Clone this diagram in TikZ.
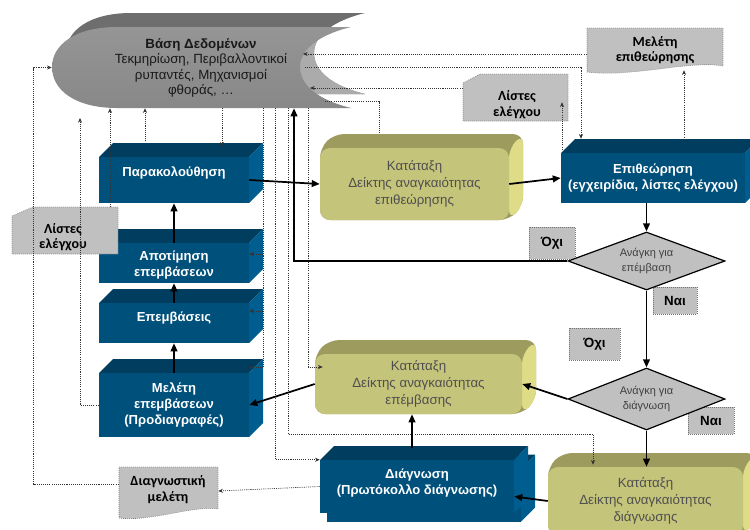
\documentclass[tikz,border=0pt]{standalone}
\usepackage{fontspec}
\setmainfont{Liberation Sans}
\newfontfamily\calfont{Carlito}[BoldFont={Carlito Bold}]
\usetikzlibrary{shapes.geometric,arrows.meta,calc}

\newlength\pxu
\setlength\pxu{0.75pt}

\definecolor{bluefront}{HTML}{00507C}
\definecolor{bluetop}{HTML}{003D5E}
\definecolor{blueside}{HTML}{005D8F}
\definecolor{olivefront}{HTML}{C5C47B}
\definecolor{olivetop}{HTML}{9D9B5E}
\definecolor{oliveside}{HTML}{DEDC86}
\definecolor{dbfronttop}{HTML}{959595}
\definecolor{dbfrontbot}{HTML}{888888}
\definecolor{dbtop}{HTML}{6E6E6E}
\definecolor{dbinner}{HTML}{ABABAB}
\definecolor{tagfill}{HTML}{C0C0C0}
\definecolor{olivetext}{HTML}{4F4F4F}

% blue extruded block: name, centre x, centre y, width, height
\newcommand\bluecube[5]{%
  \fill[bluetop] ({#2-#4/2},{#3-#5/2}) -- ++(14,-14) -- ++(#4,0) -- ({#2+#4/2},{#3-#5/2}) -- cycle;
  \fill[blueside] ({#2+#4/2},{#3-#5/2}) -- ++(14,-14) -- ++(0,#5) -- ({#2+#4/2},{#3+#5/2}) -- cycle;
  \node[blueblock, minimum width=#4\pxu, minimum height=#5\pxu] (#1) at (#2,#3) {};}

% olive rounded slab: name, centre x, centre y, width, height, text
\newcommand\olivecube[6]{%
  \fill[olivetop, rounded corners=7.5pt] ({#2-#4/2},{#3+#5/2}) -- ({#2-#4/2},{#3-#5/2}) -- ++(14,-14) -- ++(#4,0) -- ++(0,#5) -- ({#2+#4/2},{#3+#5/2}) -- cycle;
  \fill[oliveside, rounded corners=7.5pt] ({#2+#4/2},{#3-#5/2}) -- ++(14,-14) -- ++(0,#5) -- ({#2+#4/2},{#3+#5/2}) -- cycle;
  \node[oliveblock, minimum width=#4\pxu, minimum height=#5\pxu] (#1) at (#2,#3) {#6};}

\begin{document}
\begin{tikzpicture}[x=0.75pt, y=-0.75pt,
  dbshape/.style={insert path={(117,27) -- (351,27) .. controls (318,35) and (300,50) .. (300,67) .. controls (300,85) and (318,100) .. (351,108) -- (117,108) .. controls (75,108) and (52,90) .. (52,67) .. controls (52,45) and (75,27) .. (117,27) -- cycle}},
  dbtext/.style={align=center, font=\fontsize{10}{11.6}\selectfont, text=black!90},
  blueblock/.style={rectangle, fill=bluefront, inner sep=0pt},
  bluetext/.style={align=center, text=white, font=\bfseries\fontsize{9.8}{12}\selectfont, inner sep=0pt},
  oliveblock/.style={rectangle, rounded corners=7.5pt, fill=olivefront, inner sep=0pt, align=center, text=olivetext, font=\fontsize{10}{12.75}\selectfont},
  decision/.style={diamond, aspect=2.7, fill=tagfill, draw=black, line width=0.9pt, inner sep=0pt, align=center, text=black!75, font=\fontsize{8.25}{11.25}\selectfont},
  answer/.style={rectangle, fill=tagfill, draw=black!55, densely dotted, line width=0.5pt, inner sep=0pt, font=\bfseries\fontsize{10}{12}\selectfont},
  paperbox/.style={fill=tagfill, draw=black!55, densely dotted, line width=0.5pt},
  paperanchor/.style={rectangle, inner sep=0pt},
  papertext/.style={align=center, text=black, inner sep=0pt, font=\calfont\bfseries\fontsize{10.5}{11.5}\selectfont},
  flowline/.style={line width=1.3pt, -{Triangle[length=6pt,width=5pt]}},
  dotlink/.style={draw=black!80, line width=0.5pt, dash pattern=on 0.8pt off 0.8pt},
  dotarrow/.style={dotlink, -{Stealth[length=3.5pt,width=3pt]}}
]
\useasboundingbox (0,0) rectangle (750,529);
\clip (0,0) rectangle (750,529);

% ---------- database store ----------
\fill[dbtop, shift={(14,-14)}, dbshape];
\begin{scope}
  \clip (296,27) -- (351,27) -- (366,12) -- (390,12) -- (390,125) -- (296,125) -- cycle;
  \fill[dbinner, shift={(14,-14)}, dbshape];
\end{scope}
\shade[top color=dbfronttop, bottom color=dbfrontbot, dbshape];
\node[inner sep=0pt, minimum width=299\pxu, minimum height=81\pxu] (db) at (201.5,67.5) {};
\node[dbtext] (dbText) at (201,68) {\textbf{Βάση Δεδομένων}\\Τεκμηρίωση, Περιβαλλοντικοί\\ρυπαντές, Μηχανισμοί\\φθοράς, …};

% ---------- left column ----------
\bluecube{mon}{174}{180}{150}{46}
\node[bluetext] (monText) at ([yshift=5.25pt]mon.center) {Παρακολούθηση};
\bluecube{evalu}{174}{263}{150}{40}
\node[bluetext] (evaluText) at ([yshift=-1.5pt]evalu.center) {Αποτίμηση\\επεμβάσεων};
\bluecube{interv}{174}{323}{150}{40}
\node[bluetext] (intervText) at ([yshift=3.75pt]interv.center) {Επεμβάσεις};
\bluecube{study}{174}{405}{150}{64}
\node[bluetext] (studyText) at (study.center) {Μελέτη\\επεμβάσεων\\(Προδιαγραφές)};

% ---------- right side blocks ----------
\bluecube{insp}{653}{178}{184}{50}
\node[bluetext] (inspText) at (insp.center) {Επιθεώρηση\\(εγχειρίδια, λίστες ελέγχου)};
\bluecube{diagBack}{424}{495}{194}{53}
\bluecube{diag}{417}{486.5}{194}{53}
\node[bluetext] (diagText) at ([yshift=2.25pt]diag.center) {Διάγνωση\\(Πρωτόκολλο διάγνωσης)};

\olivecube{clsI}{414.5}{184}{189}{72}{Κατάταξη\\Δείκτης αναγκαιότητας\\επιθεώρησης}
\olivecube{clsE}{418.5}{384}{207}{60}{Κατάταξη\\Δείκτης αναγκαιότητας\\επέμβασης}
\olivecube{clsD}{645.5}{501}{195}{68}{Κατάταξη\\Δείκτης αναγκαιότητας\\διάγνωσης}

% ---------- answer tags and decisions ----------
\node[answer, minimum width=46\pxu, minimum height=32\pxu] (noI) at (552,243) {Όχι};
\node[answer, minimum width=44\pxu, minimum height=27\pxu] (yesI) at (675,300.5) {Ναι};
\node[answer, minimum width=51\pxu, minimum height=32\pxu] (noD) at (594.5,344) {Όχι};
\node[answer, minimum width=46\pxu, minimum height=27\pxu] (yesD) at (711,420.5) {Ναι};

\node[decision, minimum width=157\pxu, minimum height=58\pxu] (dI) at (646.5,261) {Ανάγκη για\\επέμβαση};
\node[decision, minimum width=157\pxu, minimum height=62\pxu] (dD) at (646.5,399) {Ανάγκη για\\διάγνωση};

% ---------- documents ----------
\path[paperbox] (587,28) -- (723,28) -- (723,66) .. controls (690,60) and (630,78) .. (587,72) -- cycle;
\node[paperanchor, minimum width=136\pxu, minimum height=42\pxu] (studyI) at (655,49) {};
\node[papertext] (studyIText) at (655,50) {Μελέτη\\επιθεώρησης};

\path[paperbox] (480,74) -- (568,74) -- (568,121) -- (463,121) -- (463,83) -- cycle;
\node[paperanchor, minimum width=105\pxu, minimum height=47\pxu] (listR) at (515.5,97.5) {};
\node[papertext] (listRText) at (517,104.5) {Λίστες\\ελέγχου};

\path[paperbox] (33,207) -- (118,207) -- (118,254) -- (12,254) -- (12,216) -- cycle;
\node[paperanchor, minimum width=106\pxu, minimum height=47\pxu] (listL) at (65,230.5) {};
\node[papertext] (listLText) at (63,237) {Λίστες\\ελέγχου};

\path[paperbox] (119,467) -- (218,467) -- (218,509) .. controls (195,505) and (150,522) .. (119,518) -- cycle;
\node[paperanchor, minimum width=99\pxu, minimum height=48\pxu] (diagStudy) at (168.5,491) {};
\node[papertext] (diagStudyText) at (168,489.5) {Διαγνωστική\\μελέτη};

% ---------- routing coordinates ----------
\coordinate (xA) at (33,0);
\coordinate (xC) at (110,0);
\coordinate (xD) at (145,0);
\coordinate (xE) at (222,0);
\coordinate (xF) at (263,0);
\coordinate (xG) at (275,0);
\coordinate (xH) at (288,0);
\coordinate (xS) at (294,0);
\coordinate (xI) at (308,0);
\coordinate (xJ) at (379,0);
\coordinate (xL) at (562,0);
\coordinate (xK) at (581,0);
\coordinate (xP) at (593,0);
\coordinate (xM) at (684,0);
\coordinate (xN) at (412,0);
\coordinate (yEval) at (0,254);
\coordinate (yInterv) at (0,311);
\coordinate (yStudy) at (0,367);
\coordinate (yClsD) at (0,434);
\coordinate (yList) at (0,88);
\coordinate (yStudyI) at (0,54);
\coordinate (studyUp) at (80,118);
\coordinate (dbTail) at (325,101);
\coordinate (dbOut) at (305,67);
\coordinate (dbInList) at (310,88);
\coordinate (dbInStudy) at (303,54);

% ---------- dotted information links ----------
\draw[dotarrow] ([yshift=5.25pt]diagStudy.west) -| (xA |- db.west) -- (db.west);
\draw[dotarrow] (study.west) -| (studyUp);
\draw[dotarrow] (xC |- listL.north) -- (xC |- db.south);
\draw[dotarrow] ($(xD |- mon.north)+(0,-11)$) -- (xD |- db.south);
\draw[dotarrow] (xE |- db.south) -- ($(xE |- mon.north)+(0,-10)$);
\draw[dotlink] (xF |- db.south) -- (xF |- yStudy);
\draw[dotarrow] (xF |- yEval) -- (evalu.east |- yEval);
\draw[dotarrow] (xF |- yInterv) -- (interv.east |- yInterv);
\draw[dotarrow] (xF |- yStudy) -- (study.east |- yStudy);
\draw[dotarrow] (xG |- db.south) |- (diag.north west);
\draw[dotarrow] (xH |- db.south) |- (xP |- yClsD) -- ($(xP |- clsD.north)+(0,-2)$);
\draw[dotarrow] (xI |- db.south) |- ($(clsE.west |- yStudy)+(8,0)$);
\draw[dotlink] (dbTail) -| ($(xJ |- clsI.north)+(0,-14)$);
\draw[dotarrow] (listR.west |- yList) -- (dbInList);
\draw[dotarrow] (studyI.west |- yStudyI) -- (dbInStudy);
\draw[dotarrow] (dbOut) -| ($(xK |- insp.north)+(0,-14)$);
\draw[dotarrow] ($(xL |- insp.north)+(0,-3)$) -- ($(xL |- listR.south)+(0,-19)$);
\draw[dotarrow] ($(xM |- insp.north)+(0,-13)$) -- (xM |- studyI.south);
\draw[dotarrow] (diag.west) -- (diagStudy.east);

% ---------- main flow ----------
\draw[flowline] (evalu.north) -- (mon.south);
\draw[flowline] (interv.north) -- (evalu.south);
\draw[flowline] (study.north) -- (interv.south);
\draw[flowline] (mon.east) -- (clsI.west);
\draw[flowline] (clsI.east) -- (insp.west);
\draw[flowline] (insp.south -| dI.north) -- (dI.north);
\draw[flowline] (dI.west) -| (xS |- db.south);
\draw[flowline] (dI.south) -- (dD.north);
\draw[flowline] (dD.west) -- (clsE.east);
\draw[flowline] (clsE.west) -- (study.east);
\draw[flowline] ($(xN |- diag.north)+(0,-12)$) -- (xN |- clsE.south);
\draw[flowline] (dD.south) -- (dD.south |- clsD.north);
\draw[flowline] (clsD.west) -- ($(diag.east)+(0,10)$);
\end{tikzpicture}
\end{document}
